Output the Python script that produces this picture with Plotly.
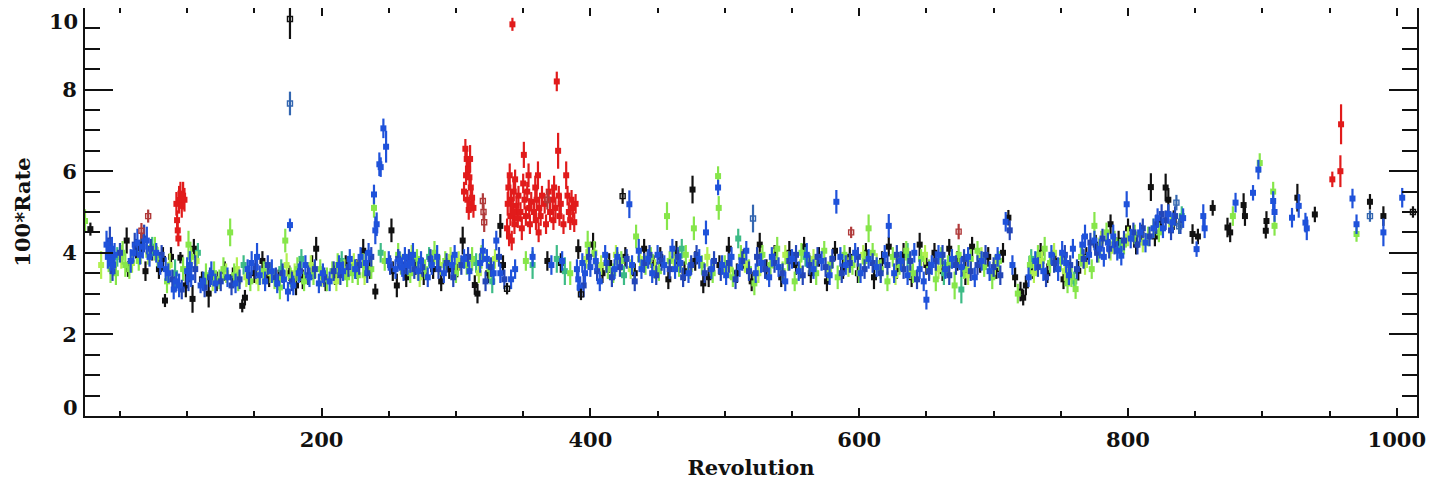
import plotly.graph_objects as go

# ---------------- data (revolution, 100*rate, error) ----------------
black_x = [28, 55, 56, 62, 66, 69, 74, 79, 82, 83.5,
           88, 95, 99, 104, 105, 111, 116, 122, 128, 134,
           141, 143, 150, 156, 161, 168, 176, 181, 186, 193,
           196, 203, 210, 218, 226, 231, 236, 240, 252, 253,
           256, 263, 270, 276, 283, 289, 295, 301, 305, 314,
           316, 324, 333, 335, 368, 378, 391, 402, 409, 414,
           426, 433, 440, 447, 452, 458, 464, 470, 476, 478,
           484, 488, 496, 503, 509, 514, 520, 526, 531, 537,
           542, 548, 553, 559, 564, 570, 576, 582, 588, 593,
           599, 605, 611, 617, 622, 628, 633, 639, 645, 650,
           656, 662, 667, 673, 679, 684, 690, 696, 702, 707,
           711, 716, 720, 722, 724, 729, 735, 740, 746, 752,
           763, 769, 776, 787, 793, 800, 806, 810, 817, 820,
           824, 828, 830, 834, 848, 852, 863, 874, 876, 886,
           887, 903, 902.5, 926, 939, 980, 990]
black_y = [4.58, 4.3, 3.6, 4.1, 4.2, 3.55, 4.0, 3.6, 3.85, 2.83,
           3.9, 3.88, 3.2, 2.87, 4.1, 3.35, 3.0, 3.3, 3.55, 3.4,
           2.7, 2.9, 3.5, 3.8, 3.4, 3.35, 3.5, 3.2, 3.35, 3.65,
           4.1, 3.3, 3.45, 3.7, 3.6, 4.05, 3.6, 3.05, 4.55, 3.55,
           3.2, 3.4, 3.7, 3.45, 3.6, 3.3, 3.6, 3.64, 4.3, 3.21,
           3.0, 3.5, 4.66, 3.7, 3.8, 3.75, 4.09, 4.2, 3.5, 3.75,
           3.9, 3.5, 4.1, 3.7, 3.9, 3.35, 4.0, 3.55, 5.55, 3.8,
           3.25, 3.4, 3.7, 4.1, 3.5, 3.85, 3.3, 4.2, 3.6, 3.95,
           3.4, 4.0, 3.7, 4.15, 3.5, 3.9, 3.3, 4.05, 3.6, 3.9,
           3.5, 4.0, 3.4, 3.8, 4.15, 3.6, 3.95, 3.4, 4.2, 3.7,
           4.0, 3.55, 4.1, 3.8, 3.5, 4.15, 3.75, 3.9, 3.6, 4.0,
           4.86, 3.4, 3.05, 2.9, 3.2, 3.6, 4.0, 3.5, 3.8, 3.35,
           3.56, 3.9, 4.2, 4.7, 4.3, 4.6, 4.2, 4.45, 5.61, 4.4,
           4.7, 5.6, 5.3, 4.8, 4.46, 4.4, 5.1, 4.62, 4.5, 5.17,
           4.9, 4.78, 4.54, 5.35, 4.94, 5.25, 4.9]
black_e = [0.12, 0.28, 0.15, 0.2, 0.25, 0.2, 0.15, 0.2, 0.25, 0.12,
           0.2, 0.1, 0.25, 0.3, 0.2, 0.15, 0.3, 0.2, 0.2, 0.2,
           0.12, 0.15, 0.2, 0.2, 0.2, 0.2, 0.15, 0.2, 0.2, 0.25,
           0.25, 0.2, 0.2, 0.2, 0.2, 0.25, 0.2, 0.15, 0.25, 0.2,
           0.25, 0.2, 0.2, 0.2, 0.2, 0.2, 0.2, 0.2, 0.3, 0.2,
           0.2, 0.2, 0.25, 0.2, 0.2, 0.2, 0.2, 0.25, 0.2, 0.2,
           0.2, 0.2, 0.2, 0.2, 0.2, 0.2, 0.25, 0.2, 0.3, 0.2,
           0.2, 0.2, 0.2, 0.25, 0.2, 0.2, 0.2, 0.25, 0.2, 0.2,
           0.2, 0.25, 0.2, 0.2, 0.2, 0.2, 0.2, 0.2, 0.2, 0.2,
           0.2, 0.2, 0.25, 0.2, 0.2, 0.2, 0.25, 0.2, 0.25, 0.2,
           0.2, 0.2, 0.2, 0.2, 0.25, 0.2, 0.2, 0.2, 0.2, 0.2,
           0.15, 0.2, 0.2, 0.15, 0.2, 0.2, 0.2, 0.2, 0.2, 0.2,
           0.2, 0.2, 0.2, 0.2, 0.2, 0.2, 0.2, 0.2, 0.3, 0.2,
           0.2, 0.3, 0.25, 0.2, 0.2, 0.15, 0.15, 0.2, 0.2, 0.25,
           0.2, 0.2, 0.15, 0.3, 0.15, 0.15, 0.2]

black_open_x = [176.5, 338, 393, 424, 1012]
black_open_y = [9.73, 3.12, 2.98, 5.39, 5.0]
black_open_e = [0.45, 0.1, 0.1, 0.15, 0.1]

blue_x = [40, 41, 42, 43, 44, 45, 46, 58, 60, 63,
          65, 67, 70, 72, 77, 80, 84, 86, 90, 92,
          94, 100, 102, 103, 110, 112, 118, 121, 130, 136,
          145, 148, 152, 154, 158, 163, 167, 172, 175, 176.5,
          179, 183, 188, 191, 198, 201, 206, 213, 216, 221,
          225, 229, 233, 235, 239, 240, 241, 243, 244, 246,
          248, 250, 255, 258, 260, 262, 264, 266, 268, 272,
          274, 279, 282, 286, 291, 297, 299, 306, 310, 318,
          320, 323, 328, 330, 333, 341, 344, 357, 371, 379,
          390, 391, 392, 394, 396, 400, 404, 407, 411, 418,
          420, 429, 431, 436, 438, 443, 446, 450, 455, 461,
          463, 467, 473, 481, 486, 490, 495, 498, 501, 505,
          511, 516, 523, 527, 533, 535, 540, 545, 550, 555,
          561, 566, 572, 578, 583, 586, 590, 597, 601, 607,
          613, 619, 622, 626, 631, 636, 641, 645, 648, 650,
          654, 659, 664, 669, 676, 681, 686, 691, 697, 703,
          709, 714, 726, 731, 737, 743, 748, 751, 754, 756,
          759, 766, 768, 771, 775, 779, 782, 785, 789, 792,
          795, 799, 802, 809, 813, 819, 822, 826, 830, 833,
          841, 851, 856, 857, 880, 893, 897, 908, 909, 922,
          927, 932, 933, 967, 970, 990, 1004]
blue_y = [4.2, 3.9, 4.0, 3.8, 4.1, 3.7, 3.95, 3.8, 4.0, 4.25,
          3.95, 4.15, 4.3, 3.9, 4.0, 3.7, 3.6, 3.5, 3.1, 3.3,
          3.2, 3.55, 3.7, 3.4, 3.2, 3.3, 3.5, 3.25, 3.4, 3.25,
          3.6, 3.75, 3.9, 3.45, 3.3, 3.55, 3.25, 3.35, 3.05, 4.68,
          3.2, 3.5, 3.7, 3.4, 3.25, 3.5, 3.3, 3.7, 3.55, 3.85,
          3.6, 3.9, 3.75, 4.0, 5.43, 4.55, 4.7, 6.17, 6.1, 7.05,
          6.6, 3.8, 3.6, 3.8, 3.65, 3.9, 3.7, 3.75, 3.95, 3.55,
          3.8, 3.4, 3.7, 3.9, 3.5, 3.7, 3.95, 3.85, 3.55, 3.75,
          4.05, 3.85, 3.5, 4.3, 3.5, 3.35, 3.6, 3.9, 3.7, 3.8,
          3.6, 3.35, 3.15, 3.75, 3.5, 3.65, 3.8, 3.3, 3.95, 3.6,
          3.9, 5.19, 3.7, 4.05, 3.6, 3.85, 3.5, 3.95, 3.7, 4.1,
          3.6, 3.75, 3.5, 3.85, 4.5, 3.6, 5.6, 3.7, 3.45, 3.9,
          3.65, 4.05, 3.5, 3.75, 3.4, 3.9, 3.65, 3.3, 3.85, 3.55,
          3.95, 3.6, 3.8, 3.45, 5.25, 3.9, 3.7, 4.0, 3.5, 3.85,
          3.65, 3.95, 4.66, 3.5, 3.8, 3.45, 4.0, 3.6, 3.3, 2.85,
          3.7, 3.95, 3.6, 3.85, 3.65, 3.9, 3.4, 3.8, 3.55, 3.9,
          4.76, 3.7, 3.4, 3.8, 3.55, 3.95, 3.6, 4.0, 3.75, 3.45,
          4.1, 4.2, 4.4, 3.95, 4.3, 4.1, 3.9, 4.25, 4.4, 4.05,
          3.93, 5.19, 4.35, 4.5, 4.25, 4.6, 4.85, 4.6, 4.95, 4.75,
          4.85, 4.09, 4.9, 4.6, 5.23, 5.47, 6.04, 5.27, 5.0, 4.86,
          5.15, 4.74, 4.6, 5.33, 4.7, 4.5, 5.35]
blue_e = [0.3, 0.25, 0.3, 0.2, 0.25, 0.2, 0.25, 0.25, 0.2, 0.3,
          0.2, 0.25, 0.3, 0.2, 0.2, 0.2, 0.25, 0.2, 0.2, 0.2,
          0.25, 0.3, 0.3, 0.2, 0.15, 0.2, 0.25, 0.2, 0.2, 0.2,
          0.2, 0.25, 0.3, 0.2, 0.2, 0.25, 0.2, 0.2, 0.2, 0.12,
          0.2, 0.2, 0.2, 0.2, 0.2, 0.2, 0.2, 0.2, 0.2, 0.2,
          0.2, 0.2, 0.25, 0.2, 0.2, 0.3, 0.25, 0.25, 0.2, 0.2,
          0.35, 0.2, 0.2, 0.2, 0.2, 0.2, 0.2, 0.2, 0.25, 0.2,
          0.2, 0.2, 0.2, 0.25, 0.2, 0.2, 0.2, 0.2, 0.2, 0.2,
          0.25, 0.2, 0.25, 0.2, 0.2, 0.2, 0.2, 0.2, 0.2, 0.2,
          0.2, 0.25, 0.2, 0.2, 0.2, 0.2, 0.2, 0.2, 0.2, 0.2,
          0.2, 0.3, 0.2, 0.25, 0.2, 0.2, 0.2, 0.2, 0.2, 0.2,
          0.2, 0.2, 0.2, 0.2, 0.25, 0.2, 0.15, 0.2, 0.2, 0.2,
          0.2, 0.2, 0.2, 0.2, 0.2, 0.2, 0.2, 0.2, 0.2, 0.2,
          0.25, 0.2, 0.2, 0.2, 0.25, 0.2, 0.2, 0.2, 0.2, 0.2,
          0.2, 0.2, 0.25, 0.2, 0.2, 0.2, 0.2, 0.2, 0.2, 0.2,
          0.2, 0.2, 0.2, 0.2, 0.2, 0.2, 0.2, 0.2, 0.2, 0.2,
          0.2, 0.2, 0.2, 0.2, 0.2, 0.2, 0.25, 0.25, 0.2, 0.2,
          0.2, 0.2, 0.25, 0.2, 0.2, 0.2, 0.2, 0.2, 0.25, 0.2,
          0.2, 0.28, 0.2, 0.2, 0.2, 0.2, 0.2, 0.2, 0.2, 0.2,
          0.2, 0.15, 0.25, 0.2, 0.2, 0.15, 0.2, 0.2, 0.2, 0.2,
          0.25, 0.2, 0.25, 0.2, 0.2, 0.3, 0.2]

bluedark_x = [42.5, 44.5, 50, 61, 68, 73, 81, 89, 96, 101,
              106, 113, 117, 125, 133, 139, 146, 151, 160, 166,
              171, 178, 184, 190, 195, 202, 209, 214, 220, 228,
              234, 237, 251, 257, 261, 265, 269, 275, 281, 287,
              293, 298, 304, 309, 322, 326, 332, 336, 395, 399,
              405, 412, 416, 422, 427, 433, 440, 444, 449, 453,
              459, 465, 469, 475, 479, 485, 492, 497, 503, 508,
              513, 518, 524, 530, 537, 543, 548, 553, 558, 563,
              569, 575, 580, 587, 593, 599, 604, 610, 616, 621,
              628, 633, 638, 643, 652, 657, 662, 667, 672, 678,
              683, 688, 694, 700, 705, 712, 733, 739, 745, 753,
              757, 762, 767, 772, 777, 781, 786, 790, 797, 804,
              807, 811, 816, 821, 825, 828, 832, 835, 839]
bluedark_y = [4.3, 3.55, 4.0, 4.2, 4.35, 4.1, 3.95, 3.35, 3.1, 3.35,
              3.6, 3.15, 3.4, 3.3, 3.2, 3.35, 3.45, 3.65, 3.7, 3.4,
              3.5, 3.3, 3.55, 3.45, 3.6, 3.4, 3.55, 3.45, 3.65, 3.7,
              3.5, 3.9, 3.7, 3.85, 3.55, 3.85, 3.6, 3.65, 3.85, 3.6,
              3.75, 3.4, 3.7, 3.9, 3.3, 3.65, 3.9, 3.35, 3.2, 3.9,
              3.55, 3.75, 3.4, 3.65, 3.85, 3.3, 3.75, 3.95, 3.45, 3.8,
              3.6, 3.9, 3.4, 3.7, 3.95, 3.5, 3.8, 3.55, 3.75, 3.35,
              3.8, 3.55, 3.9, 3.6, 3.75, 3.5, 3.8, 3.95, 3.45, 3.7,
              3.9, 3.65, 3.85, 3.5, 3.75, 3.9, 3.6, 3.75, 3.5, 3.7,
              3.95, 3.6, 3.8, 3.35, 3.55, 3.8, 3.95, 3.45, 3.7, 3.85,
              3.55, 3.7, 3.95, 3.65, 3.45, 4.55, 3.65, 3.4, 3.75, 3.95,
              3.7, 3.6, 3.85, 4.25, 4.0, 4.35, 4.1, 4.2, 4.3, 4.5,
              4.2, 4.6, 4.4, 4.7, 4.95, 4.8, 4.55, 4.9, 4.7]
bluedark_e = [0.3, 0.2, 0.2, 0.25, 0.3, 0.2, 0.2, 0.2, 0.2, 0.25,
              0.3, 0.2, 0.2, 0.2, 0.2, 0.2, 0.2, 0.25, 0.2, 0.2,
              0.2, 0.2, 0.2, 0.2, 0.2, 0.2, 0.2, 0.2, 0.2, 0.2,
              0.2, 0.2, 0.2, 0.2, 0.2, 0.2, 0.2, 0.2, 0.2, 0.2,
              0.2, 0.2, 0.2, 0.2, 0.2, 0.2, 0.2, 0.2, 0.25, 0.2,
              0.2, 0.2, 0.2, 0.2, 0.2, 0.2, 0.2, 0.2, 0.2, 0.2,
              0.2, 0.2, 0.2, 0.2, 0.2, 0.2, 0.2, 0.2, 0.2, 0.2,
              0.2, 0.2, 0.2, 0.2, 0.2, 0.2, 0.2, 0.2, 0.2, 0.2,
              0.2, 0.2, 0.2, 0.2, 0.2, 0.2, 0.2, 0.2, 0.2, 0.2,
              0.2, 0.2, 0.2, 0.2, 0.2, 0.2, 0.2, 0.2, 0.2, 0.2,
              0.2, 0.2, 0.2, 0.2, 0.2, 0.2, 0.2, 0.2, 0.2, 0.2,
              0.2, 0.2, 0.2, 0.2, 0.2, 0.2, 0.2, 0.2, 0.2, 0.2,
              0.2, 0.2, 0.2, 0.2, 0.2, 0.2, 0.2, 0.2, 0.2]

blue_open_x = [176.5, 521, 836, 838, 980]
blue_open_y = [7.66, 4.84, 5.23, 4.65, 4.9]
blue_open_e = [0.25, 0.3, 0.15, 0.15, 0.1]

green_x = [24, 43, 47, 52, 54, 57, 64, 76, 78, 85,
           97, 101, 103, 114, 120, 124, 127, 132, 135, 138,
           147, 157, 165, 169, 173, 177, 182, 187, 194, 199,
           204, 208, 212, 219, 223, 227, 231, 237, 239, 247,
           257, 266, 271, 277, 284, 292, 300, 308, 312, 319,
           325, 352, 385, 398, 403, 413, 417, 423, 434, 441,
           445, 451, 457, 459, 466, 471, 477, 483, 491, 495,
           495.5, 500, 506, 512, 518, 522, 528, 534, 539, 543,
           547, 552, 557, 563, 568, 574, 579, 584, 589, 595,
           600, 604, 607, 610, 616, 621, 625, 630, 635, 640,
           646, 652, 657, 661, 666, 671, 674, 678, 683, 688,
           693, 699, 704, 718, 727, 733, 738, 742, 750, 755,
           758, 761, 765, 773, 775, 778, 784, 790, 797, 805,
           815, 823, 878, 898, 908, 909, 970]
green_y = [4.78, 3.6, 3.5, 4.0, 3.7, 3.6, 3.8, 4.1, 3.9, 3.3,
           3.6, 4.2, 3.9, 3.45, 3.5, 3.35, 3.6, 4.5, 3.45, 3.3,
           3.3, 3.55, 3.35, 3.15, 4.3, 3.4, 3.6, 3.3, 3.45, 3.6,
           3.35, 3.55, 3.7, 3.4, 3.5, 3.45, 3.7, 3.6, 5.1, 3.8,
           3.95, 3.5, 3.85, 3.6, 4.0, 3.8, 3.5, 3.7, 3.85, 3.9,
           3.6, 3.8, 3.5, 4.2, 4.0, 3.6, 3.5, 3.8, 4.4, 3.7,
           3.9, 3.55, 4.9, 3.8, 3.65, 3.95, 4.6, 3.7, 3.5, 5.88,
           5.1, 3.7, 3.4, 3.9, 3.6, 3.25, 3.95, 3.7, 4.1, 3.55,
           3.8, 3.3, 4.0, 3.75, 3.5, 4.05, 3.7, 3.4, 3.95, 3.7,
           3.5, 3.8, 4.6, 4.0, 3.6, 3.3, 3.9, 3.7, 4.05, 3.5,
           3.85, 3.6, 3.35, 3.9, 3.7, 3.2, 3.95, 3.6, 3.85, 4.05,
           3.65, 3.4, 3.8, 3.0, 3.7, 3.95, 4.1, 3.75, 3.8, 3.25,
           3.4, 3.11, 3.9, 3.6, 4.66, 4.0, 4.5, 4.3, 4.2, 4.45,
           4.4, 4.5, 4.9, 6.2, 5.5, 4.66, 4.46]
green_e = [0.25, 0.3, 0.25, 0.25, 0.25, 0.2, 0.2, 0.25, 0.2, 0.25,
           0.25, 0.3, 0.2, 0.25, 0.25, 0.2, 0.25, 0.3, 0.25, 0.2,
           0.2, 0.2, 0.2, 0.25, 0.25, 0.2, 0.25, 0.2, 0.2, 0.2,
           0.25, 0.2, 0.25, 0.2, 0.2, 0.2, 0.25, 0.2, 0.2, 0.2,
           0.25, 0.2, 0.2, 0.2, 0.25, 0.2, 0.2, 0.2, 0.25, 0.25,
           0.2, 0.2, 0.25, 0.3, 0.25, 0.2, 0.2, 0.2, 0.25, 0.2,
           0.2, 0.2, 0.3, 0.2, 0.2, 0.2, 0.25, 0.2, 0.2, 0.2,
           0.25, 0.2, 0.2, 0.25, 0.2, 0.25, 0.2, 0.2, 0.25, 0.2,
           0.2, 0.2, 0.2, 0.2, 0.25, 0.2, 0.2, 0.25, 0.2, 0.2,
           0.2, 0.2, 0.3, 0.2, 0.2, 0.2, 0.2, 0.2, 0.2, 0.2,
           0.2, 0.2, 0.25, 0.2, 0.2, 0.3, 0.2, 0.2, 0.2, 0.2,
           0.2, 0.25, 0.2, 0.2, 0.2, 0.2, 0.25, 0.2, 0.2, 0.2,
           0.2, 0.2, 0.2, 0.2, 0.3, 0.2, 0.2, 0.2, 0.2, 0.2,
           0.2, 0.2, 0.2, 0.2, 0.2, 0.2, 0.15]

lime_x = [36, 51, 59, 71, 87, 107, 119, 129, 137, 144,
          153, 162, 174, 180, 192, 200, 211, 217, 224, 232,
          259, 267, 273, 288, 296, 302, 317, 329, 397, 408,
          419, 430, 437, 448, 462, 474, 487, 504, 515, 525,
          536, 545, 556, 566, 577, 592, 603, 613, 627, 638,
          649, 659, 669, 681, 691, 701, 730, 736, 745, 753,
          768, 780, 787, 800, 811, 819, 832]
lime_y = [3.7, 3.9, 3.75, 3.95, 3.7, 3.8, 3.3, 3.5, 3.6, 3.4,
          3.3, 3.5, 3.7, 3.5, 3.7, 3.4, 3.3, 3.6, 3.75, 3.45,
          3.7, 3.95, 3.4, 3.7, 3.9, 3.8, 3.5, 3.85, 3.85, 3.7,
          3.95, 3.6, 3.85, 3.6, 3.85, 3.6, 3.9, 3.6, 3.75, 3.5,
          3.85, 3.95, 3.6, 3.85, 3.55, 3.65, 3.95, 3.75, 3.45, 3.6,
          3.95, 3.6, 3.85, 3.45, 3.9, 3.7, 3.5, 3.8, 4.0, 3.55,
          3.7, 4.3, 4.05, 4.4, 4.25, 4.6, 4.7]
lime_e = [0.3, 0.25, 0.2, 0.2, 0.25, 0.2, 0.2, 0.2, 0.25, 0.2,
          0.2, 0.2, 0.25, 0.2, 0.2, 0.2, 0.2, 0.2, 0.2, 0.2,
          0.2, 0.2, 0.2, 0.2, 0.2, 0.2, 0.2, 0.2, 0.2, 0.2,
          0.2, 0.2, 0.2, 0.2, 0.2, 0.2, 0.2, 0.2, 0.2, 0.2,
          0.2, 0.2, 0.2, 0.2, 0.2, 0.2, 0.2, 0.2, 0.2, 0.2,
          0.2, 0.2, 0.2, 0.2, 0.2, 0.2, 0.2, 0.2, 0.2, 0.2,
          0.2, 0.2, 0.2, 0.2, 0.2, 0.2, 0.2]

teal_x = [48, 74, 91, 108, 142, 170, 185, 215, 244, 280,
          315, 327, 357, 375, 381, 425, 468, 510, 560, 636,
          663, 676, 728, 760, 794, 840]
teal_y = [3.9, 4.15, 3.5, 4.0, 3.7, 3.6, 3.85, 3.8, 4.0, 3.9,
          3.75, 3.3, 3.7, 3.85, 3.55, 3.45, 4.1, 4.35, 3.9, 3.95,
          3.5, 3.1, 3.85, 3.3, 4.1, 4.9]
teal_e = [0.2, 0.2, 0.3, 0.2, 0.2, 0.2, 0.2, 0.2, 0.2, 0.2,
          0.2, 0.25, 0.3, 0.3, 0.3, 0.2, 0.2, 0.2, 0.2, 0.25,
          0.25, 0.3, 0.2, 0.2, 0.2, 0.2]

red_x = [92, 92.5, 93, 93.5, 94, 95, 96, 97, 98, 306,
         307, 307.5, 308, 308.5, 309, 309.5, 310, 310.5, 311, 311.5,
         312, 313, 338, 338.5, 339, 339.5, 340, 340.5, 341, 341.5,
         342, 342.5, 343, 343.5, 344, 345, 346, 346.5, 348, 349,
         350, 350.5, 351, 352, 353, 354, 354.5, 355, 356, 358,
         359, 359.5, 360, 361, 361.5, 362, 363, 364, 366, 367,
         369, 370, 372, 372.5, 373, 374, 375, 376, 376.5, 377,
         378, 380, 382, 383, 384, 385, 386, 387, 388, 389,
         952, 958, 958.5]
red_y = [5.2, 4.8, 4.55, 4.35, 5.3, 5.45, 5.15, 5.4, 5.3, 5.5,
         6.55, 5.9, 6.3, 5.3, 6.05, 5.05, 5.85, 6.3, 5.6, 5.2,
         5.35, 5.1, 4.6, 5.2, 5.6, 4.4, 5.9, 4.9, 5.3, 4.3,
         9.6, 5.0, 5.5, 4.7, 5.8, 5.15, 4.85, 5.4, 5.0, 4.6,
         5.7, 6.4, 5.3, 4.9, 5.5, 5.9, 5.1, 4.7, 5.25, 5.0,
         5.6, 4.8, 5.3, 5.9, 4.5, 5.1, 4.9, 5.4, 5.2, 4.7,
         5.5, 5.0, 5.3, 4.8, 5.6, 5.1, 8.2, 6.5, 5.4, 4.9,
         5.2, 4.7, 5.9, 5.4, 5.0, 4.8, 5.3, 5.1, 4.75, 5.2,
         5.8, 6.0, 7.15]
red_e = [0.25, 0.2, 0.2, 0.15, 0.3, 0.25, 0.25, 0.3, 0.25, 0.2,
         0.2, 0.2, 0.2, 0.2, 0.2, 0.2, 0.2, 0.3, 0.2, 0.15,
         0.2, 0.2, 0.2, 0.25, 0.25, 0.2, 0.25, 0.2, 0.2, 0.2,
         0.12, 0.2, 0.2, 0.2, 0.2, 0.2, 0.2, 0.2, 0.2, 0.25,
         0.2, 0.28, 0.2, 0.2, 0.2, 0.25, 0.2, 0.2, 0.2, 0.2,
         0.25, 0.2, 0.2, 0.3, 0.2, 0.2, 0.2, 0.2, 0.2, 0.2,
         0.25, 0.2, 0.2, 0.2, 0.25, 0.2, 0.2, 0.4, 0.2, 0.2,
         0.2, 0.2, 0.3, 0.2, 0.2, 0.2, 0.2, 0.2, 0.2, 0.2,
         0.15, 0.35, 0.45]

darkred_x = [66, 71, 320, 320.5, 321, 368, 594, 674]
darkred_y = [4.54, 4.9, 5.27, 5.0, 4.75, 5.3, 4.5, 4.52]
darkred_e = [0.15, 0.12, 0.15, 0.15, 0.2, 0.2, 0.1, 0.15]

x_tick_vals = [200, 400, 600, 800, 1000]
y_tick_vals = [0, 2, 4, 6, 8, 10]
y_tick_text = ["", "2", "4", "6", "8", ""]
# end labels, drawn slightly inside the frame as in the original plot
y_end_labels = ["0", "10"]
y_end_label_pos = [0.2, 10.0]
y_end_label_anchor = ["middle", "top"]

# ---------------- figure ----------------
fig = go.Figure()


def add(xs, ys, es, color, symbol="square", size=6):
    n = min(len(xs), len(ys), len(es))
    fig.add_trace(go.Scatter(
        x=xs[:n], y=ys[:n], mode="markers",
        marker=dict(symbol=symbol, size=size, color=color,
                    line=dict(width=1.4 if "open" in symbol else 0, color=color)),
        error_y=dict(type="data", array=[e + 0.04 for e in es[:n]], visible=True,
                     color=color, thickness=2.2, width=0),
        showlegend=False, hoverinfo="skip", cliponaxis=True,
    ))


add(black_x, black_y, black_e, "#111111")
add(teal_x, teal_y, teal_e, "#3dbb86")
add(lime_x, lime_y, lime_e, "#b2f050")
add(green_x, green_y, green_e, "#86e64a")
add(bluedark_x, bluedark_y, bluedark_e, "#2346b8")
add(blue_x, blue_y, blue_e, "#1f52da")
add(red_x, red_y, red_e, "#e11b1b")
add(darkred_x, darkred_y, darkred_e, "#b03a3a", "square-open", 5)
add(black_open_x, black_open_y, black_open_e, "#111111", "square-open", 5)
add(blue_open_x, blue_open_y, blue_open_e, "#3366b0", "square-open", 5)

tick_font = dict(family="DejaVu Serif", size=21, color="#111111", weight="bold")

for txt, yv, ya in zip(y_end_labels, y_end_label_pos, y_end_label_anchor):
    fig.add_annotation(text=txt, x=0, xref="paper", y=yv, yref="y",
                       xanchor="right", yanchor=ya, xshift=-6, borderpad=0,
                       showarrow=False, font=tick_font)

fig.update_layout(
    width=1434, height=481,
    margin=dict(l=77, r=25, t=0, b=73),
    paper_bgcolor="white", plot_bgcolor="white",
    xaxis=dict(
        range=[24, 1015], tickvals=x_tick_vals, ticktext=[str(v) for v in x_tick_vals],
        ticks="inside", ticklen=8, tickwidth=2, tickcolor="#111111",
        minor=dict(dtick=50, tick0=0, ticks="inside", ticklen=5, tickwidth=1.5, tickcolor="#111111"),
        showline=True, linewidth=2, linecolor="#111111", mirror="allticks",
        showgrid=False, zeroline=False, tickfont=tick_font, automargin=False,
        ticklabeloverflow="allow", ticklabelstandoff=4,
        title=dict(text="Revolution", font=tick_font, standoff=9),
    ),
    yaxis=dict(
        range=[0, 10], tickvals=y_tick_vals, ticktext=y_tick_text,
        ticks="inside", ticklen=28, tickwidth=2, tickcolor="#111111",
        minor=dict(dtick=0.5, tick0=0, ticks="inside", ticklen=15, tickwidth=1.5, tickcolor="#111111"),
        showline=True, linewidth=2, linecolor="#111111", mirror="allticks",
        showgrid=False, zeroline=False, tickfont=tick_font, automargin=False,
        ticklabeloverflow="allow", ticklabelstandoff=2,
        title=dict(text="100*Rate", font=tick_font, standoff=26),
    ),
)

fig.write_html("out.html")
